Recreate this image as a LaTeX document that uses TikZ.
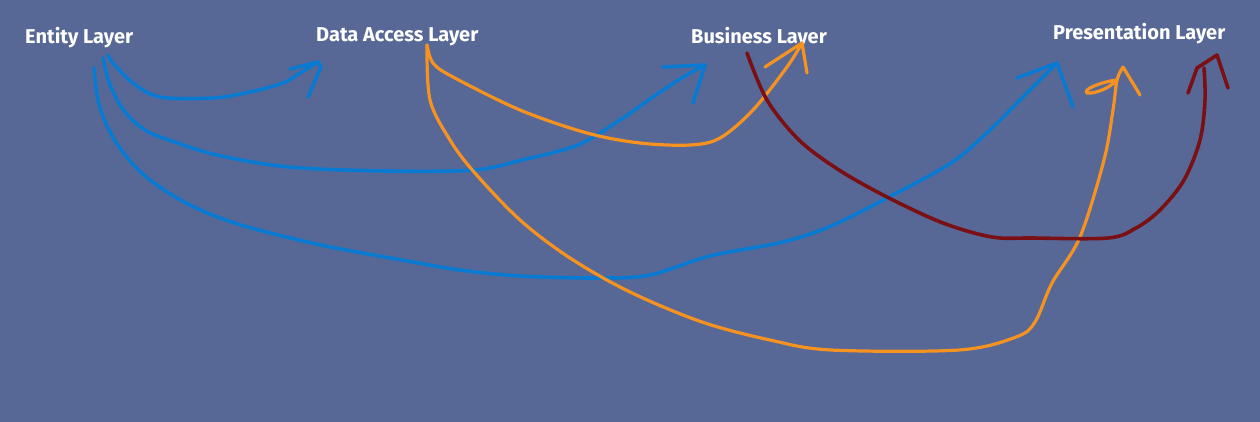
\documentclass[tikz,border=0pt]{standalone}
\usepackage{fontspec}
\setmainfont{Fira Sans}
\definecolor{bg}{RGB}{87,104,150}
\definecolor{pblue}{RGB}{8,122,210}
\definecolor{porange}{RGB}{246,146,32}
\definecolor{pred}{RGB}{122,16,20}
\tikzset{
  lbl/.style={anchor=base west,inner sep=0pt,text=white,font=\fontsize{20}{22}\selectfont\bfseries},
  pen/.style={line width=3.6pt,line cap=round,line join=round},
  bluepen/.style={pen,draw=pblue},
  orangepen/.style={pen,draw=porange,line width=3.2pt},
  redpen/.style={pen,draw=pred}
}
\begin{document}
\begin{tikzpicture}[x=1pt,y=-1pt]
\fill[bg] (0,0) rectangle (1260,422);
\useasboundingbox (0,0) rectangle (1260,422);

\node[lbl] (entity) at (25,44) {Entity Layer};
\node[lbl] (dal) at (316,42) {Data Access Layer};
\node[lbl] (bl) at (691,44) {Business Layer};
\node[lbl] (pl) at (1053,40) {Presentation Layer};

% start / tip points
\coordinate (b1s) at (108,55);
\coordinate (b2s) at (103,58);
\coordinate (b3s) at (94,68);
\coordinate (b1t) at (318,62);
\coordinate (b2t) at (705,65);
\coordinate (b3t) at (1057,63);
\coordinate (o1s) at (427,45);
\coordinate (o1t) at (802,43);
\coordinate (o2t) at (1123,67);
\coordinate (rs) at (747,53);
\coordinate (rt) at (1217,55);

% Entity -> Data Access
\draw[bluepen] plot[smooth,tension=0.55] coordinates {(b1s) (113,63) (133,83) (160,97) (213,98) (250,92) (283,83) (300,73) (b1t)};
\draw[bluepen] (290,69) -- (b1t) -- (321,67) -- (308,97);

% Entity -> Business
\draw[bluepen] plot[smooth,tension=0.55] coordinates {(b2s) (110,85) (125,112) (145,130) (169,140) (217,155) (289,167) (386,171) (474,170) (522,160) (578,145) (620,120) (653,97) (680,79) (b2t)};
\draw[bluepen] (663,67) -- (b2t) -- (693,103);

% Entity -> Presentation
\draw[bluepen] plot[smooth,tension=0.55] coordinates {(b3s) (98,100) (108,128) (125,155) (150,180) (190,205) (241,225) (321,245) (402,260) (460,270) (520,276) (600,278) (650,275) (710,256) (783,242) (831,226) (887,198) (951,163) (990,130) (1020,100) (b3t)};
\draw[bluepen] (1017,78) -- (b3t) -- (1073,107);

% Data Access -> Business
\draw[orangepen] plot[smooth,tension=0.55] coordinates {(o1s) (433,63) (453,77) (520,110) (587,133) (640,143) (690,145) (720,138) (753,110) (787,67) (o1t)};
\draw[orangepen] (765,67) -- (o1t) -- (807,73);

% Data Access -> Presentation
\draw[orangepen] plot[smooth,tension=0.55] coordinates {(o1s) (430,100) (450,140) (474,172) (520,220) (570,258) (630,292) (702,322) (770,340) (831,350) (959,350) (1016,337) (1035,322) (1052,283) (1080,237) (1104,160) (1113,110) (1117,80) (o2t)};
\draw[orangepen] (o2t) -- (1140,95);
\draw[orangepen] (1117,80) .. controls (1100,82) and (1082,90) .. (1087,93) .. controls (1095,94) and (1110,88) .. (1117,80);

% Business -> Presentation
\draw[redpen] plot[smooth,tension=0.55] coordinates {(rs) (767,100) (799,140) (839,170) (887,197) (943,223) (992,237) (1032,238) (1108,238) (1136,228) (1160,210) (1184,180) (1200,140) (1205,100) (1204,68)};
\draw[redpen] (1188,93) -- (1197,68) -- (rt) -- (1228,88);
\end{tikzpicture}
\end{document}
